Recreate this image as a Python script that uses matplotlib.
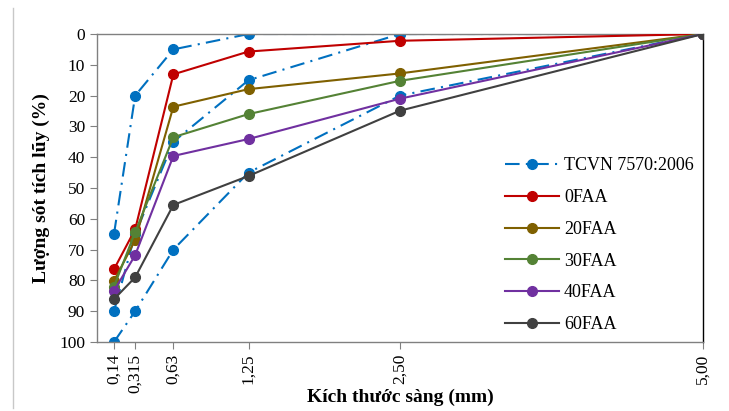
import matplotlib
matplotlib.use("Agg")
import matplotlib.pyplot as plt
from matplotlib.lines import Line2D

sieve = [0.14, 0.315, 0.63, 1.25, 2.5, 5.0]
tick_labels = ["0,14", "0,315", "0,63", "1,25", "2,50", "5,00"]

tcvn_upper = [65, 20, 5, 0, 0, 0]
tcvn_middle = [90, 65, 35, 15, 0, 0]
tcvn_lower = [100, 90, 70, 45, 20, 0]

s_0faa = [76.4, 63.4, 13.1, 5.7, 2.2, 0]
s_20faa = [80.2, 66.9, 23.6, 17.9, 12.8, 0]
s_30faa = [82.0, 64.3, 33.5, 26.0, 15.2, 0]
s_40faa = [83.4, 71.8, 39.6, 34.1, 21.0, 0]
s_60faa = [86.1, 79.0, 55.5, 46.1, 24.9, 0]

series = [
    ("0FAA", s_0faa, "#C00000"),
    ("20FAA", s_20faa, "#7F6000"),
    ("30FAA", s_30faa, "#548235"),
    ("40FAA", s_40faa, "#7030A0"),
    ("60FAA", s_60faa, "#404040"),
]

plt.rcParams['font.family'] = ['Liberation Serif', 'DejaVu Serif']

fig = plt.figure(figsize=(7.29, 4.11), dpi=100)
ax = fig.add_axes([97/729, 1-342/411, (703-97)/729, (342-34)/411])

blue = "#0070C0"
dash = (0, (7, 3, 1, 3))
for i, curve in enumerate([tcvn_upper, tcvn_middle, tcvn_lower]):
    ax.plot(sieve, curve, color=blue, linestyle=dash, linewidth=1.5,
            marker='o', markersize=7, zorder=2,
            label="TCVN 7570:2006" if i == 0 else None)

for name, vals, col in series:
    ax.plot(sieve, vals, color=col, linewidth=1.5, marker='o', markersize=7,
            label=name, zorder=3)

ax.set_xlim(0, 5)
ax.set_ylim(100, 0)
ax.set_yticks(range(0, 101, 10))
ax.set_xticks(sieve)
ax.set_xticklabels(tick_labels, rotation=90)
ax.tick_params(axis='both', labelsize=12.5, direction='out', length=5, color='#808080')
for side in ['left', 'bottom', 'top']:
    ax.spines[side].set_color('#808080')
ax.spines['right'].set_color('#000000')
for s in ax.spines.values():
    s.set_linewidth(1.0)

ax.set_ylabel("Lượng sót tích lũy (%)", fontsize=14, fontweight='bold')
ax.yaxis.set_label_coords(-(97-50)/606, 0.5)
ax.set_xlabel("Kích thước sàng (mm)", fontsize=14, fontweight='bold')
ax.xaxis.set_label_coords(0.5, -(389-342)/308)

leg = ax.legend(loc='upper left', bbox_to_anchor=(489/729, 1-141/411),
                bbox_transform=fig.transFigure, frameon=False, fontsize=13,
                handlelength=3.0, handletextpad=0.25, labelspacing=0.82)

fig.add_artist(Line2D([13/729, 13/729], [3/411, 1-8/411], color='#c8c8c8', linewidth=1,
                      transform=fig.transFigure))

fig.savefig("out.png", dpi=100)
